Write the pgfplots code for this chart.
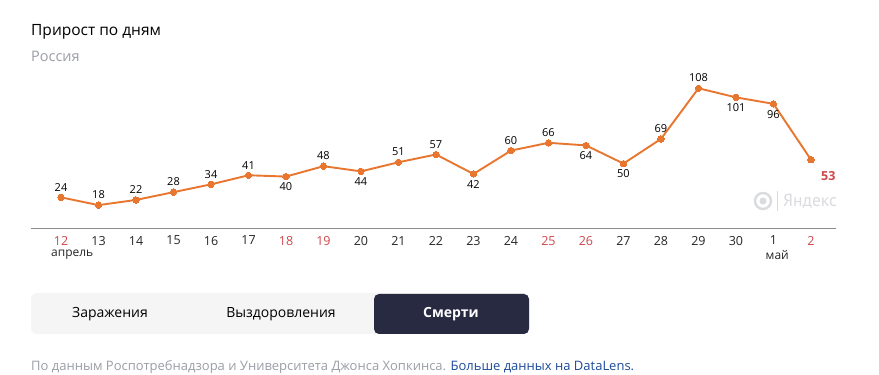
\documentclass[border=0pt]{standalone}
\usepackage{pgfplots}
\pgfplotsset{compat=1.18}
\usepackage{fontspec}
\setmainfont{Open Sans}
\newfontfamily\ptsans{PT Sans}
\definecolor{ln}{RGB}{232,118,46}
\definecolor{wk}{RGB}{208,70,74}
\definecolor{axc}{RGB}{140,140,140}
\definecolor{btn}{RGB}{39,42,65}
\definecolor{bar}{RGB}{245,245,245}
\definecolor{sub}{RGB}{155,158,166}
\definecolor{lnk}{RGB}{30,75,155}
\definecolor{wm}{RGB}{218,219,222}
\pgfplotstableread{
x y
0 24
1 18
2 22
3 28
4 34
5 41
6 40
7 48
8 44
9 51
10 57
11 42
12 60
13 66
14 64
15 50
16 69
17 108
18 101
19 96
20 53
}\deaths
\begin{document}
\begin{tikzpicture}[x=1pt,y=1pt]
\clip (0,0) rectangle (879,375);
\fill[white] (0,0) rectangle (879,375);
% title
\node[anchor=base west, inner sep=0pt, font=\fontsize{15.5}{18}\selectfont] at (31,339) {Прирост по дням};
\node[anchor=base west, inner sep=0pt, text=sub, font=\fontsize{14.5}{17}\selectfont] at (31,313) {Россия};
% watermark
\draw[wm, line width=2.4pt] (763,174) circle (8);
\fill[wm] (763,174) circle (3.5);
\draw[wm, line width=0.8pt] (777,164) -- (777,184);
\node[anchor=west, inner sep=0pt, text=wm, font=\ptsans\fontsize{17.5}{20}\selectfont] at (783,174) {Яндекс};
\begin{axis}[
  at={(31pt,146.5pt)}, anchor=south west,
  scale only axis, width=805pt, height=155.8pt,
  xmin=-0.8, xmax=20.667, ymin=0, ymax=120,
  hide y axis,
  axis x line=bottom,
  x axis line style={-, draw=axc, line width=1.6pt},
  xtick={0,...,20},
  xticklabels={\textcolor{wk}{12},13,14,15,16,17,\textcolor{wk}{18},\textcolor{wk}{19},20,21,22,23,24,\textcolor{wk}{25},\textcolor{wk}{26},27,28,29,30,1,\textcolor{wk}{2}},
  major tick length=0pt,
  xticklabel style={font=\fontsize{12.5}{14}\selectfont, text=black!85, yshift=-4pt},
  /pgf/number format/assume math mode=true,
  clip=false,
]
\addplot[ln, line width=1.9pt, mark=*, mark size=3.2pt, mark options={fill=ln, draw=ln, line width=0pt}] table[x=x,y=y] {\deaths};
\addplot[draw=none, mark=none, nodes near coords, nodes near coords style={anchor=south, font=\fontsize{11}{13}\selectfont, text=black, inner sep=0pt, yshift=6pt}] coordinates {(0,24)(1,18)(2,22)(3,28)(4,34)(5,41)(7,48)(9,51)(10,57)(12,60)(13,66)(16,69)(17,108)};
\addplot[draw=none, mark=none, nodes near coords, nodes near coords style={anchor=north, font=\fontsize{11}{13}\selectfont, text=black, inner sep=0pt, yshift=-6pt}] coordinates {(6,40)(8,44)(11,42)(14,64)(15,50)(18,101)(19,96)};
\addplot[draw=none, mark=none, nodes near coords, nodes near coords style={anchor=north west, font=\bfseries\fontsize{12.5}{14}\selectfont, text=wk, inner sep=0pt, xshift=10pt, yshift=-12pt}] coordinates {(20,53)};
\node[anchor=north, inner sep=0pt, font=\fontsize{12}{14}\selectfont, text=black!85] at (axis cs:0.3,-16.5) {апрель};
\node[anchor=north, inner sep=0pt, font=\fontsize{12}{14}\selectfont, text=black!85] at (axis cs:19.1,-16.5) {май};
\end{axis}
% buttons
\fill[bar, rounded corners=6pt] (31,41) rectangle (529,82);
\fill[btn, rounded corners=5pt] (374,41) rectangle (529,81);
\node[font=\fontsize{14}{16}\selectfont] at (110,61) {Заражения};
\node[font=\fontsize{14}{16}\selectfont] at (281,61) {Выздоровления};
\node[font=\bfseries\fontsize{14}{16}\selectfont, text=white] at (451,61) {Смерти};
% footer
\node[anchor=base west, inner sep=0pt, font=\fontsize{13}{15}\selectfont] at (31,4) {\textcolor{sub}{По данным Роспотребнадзора и Университета Джонса Хопкинса.} \textcolor{lnk}{Больше данных на DataLens.}};
\end{tikzpicture}
\end{document}
